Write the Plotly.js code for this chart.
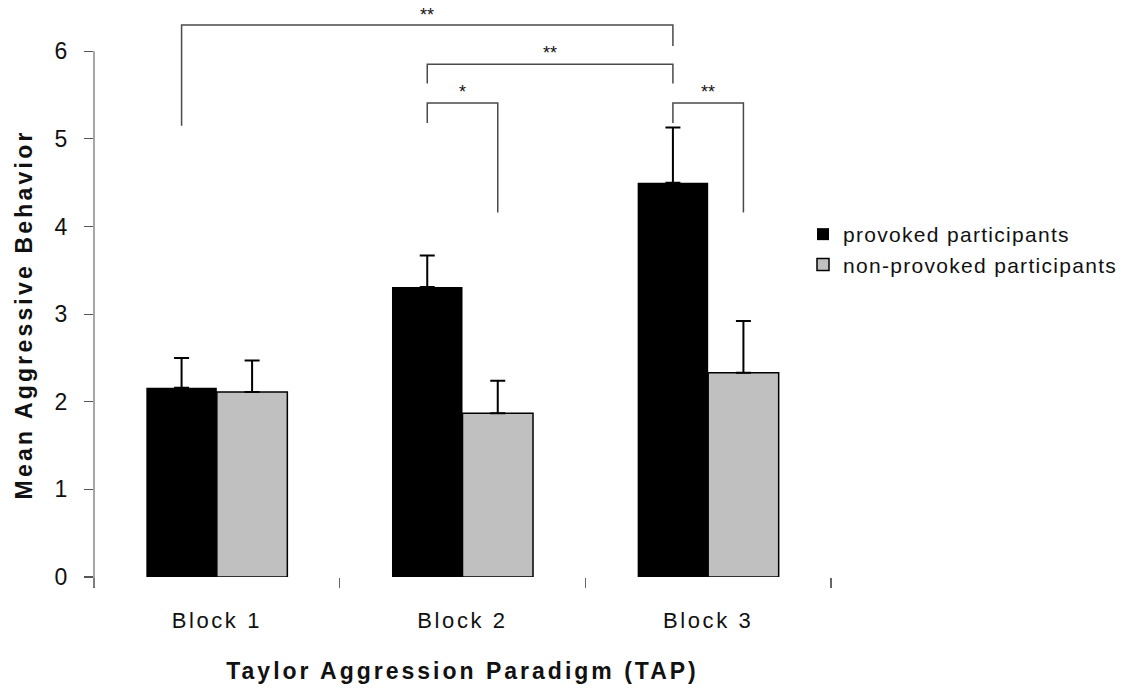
<!DOCTYPE html>
<html>
<head>
<meta charset="utf-8">
<script src="https://cdn.plot.ly/plotly-3.0.1.min.js"></script>
<style>
html,body{margin:0;padding:0;background:#fff;}
#chart{width:1128px;height:691px;}
#chart .xtick text{letter-spacing:2.6px;}
#chart .legendtext{letter-spacing:1.3px;}
#chart .legend .scrollbox{clip-path:none !important;}
#chart .xtitle{letter-spacing:3px;}
#chart g.annotation[data-index="4"] text{letter-spacing:3.2px;}
</style>
</head>
<body>
<div id="chart"></div>
<script>
// ---- data ----
const categories = ['Block 1', 'Block 2', 'Block 3'];
const seriesNames = ['provoked participants', 'non-provoked participants'];
const provoked = [2.16, 3.31, 4.50];
const provokedErr = [0.34, 0.36, 0.63];
const nonProvoked = [2.11, 1.87, 2.33];
const nonProvokedErr = [0.36, 0.37, 0.59];
const yTicks = [0, 1, 2, 3, 4, 5, 6];

// significance brackets: [left category, left series, right category, right series, line y, left foot y, right foot y, label]
const bracketLeftCat   = [0, 1, 1, 2];
const bracketLeftSer   = [0, 0, 0, 0];
const bracketRightCat  = [2, 2, 1, 2];
const bracketRightSer  = [0, 0, 1, 1];
const bracketLineY     = [6.30, 5.85, 5.41, 5.41];
const bracketLeftFootY = [5.15, 5.63, 5.18, 5.18];
const bracketRightFootY= [6.06, 5.63, 4.16, 4.16];
const bracketLabels    = ['**', '**', '*', '**'];
const bracketLabelOffset = [0.11, 0.13, 0.12, 0.12];

// ---- layout constants ----
const bargap = 0.426;
const half = (1 - bargap) / 4;             // offset of each bar centre from category centre
const yMax = 6.55;
const plotH = 574;

function barX(cat, ser) { return cat + (ser === 0 ? -half : half); }

const shapes = [];
const annotations = [];
const lineStyle = {color: '#4a4a4a', width: 1.5};
for (let i = 0; i < bracketLabels.length; i++) {
  const xl = barX(bracketLeftCat[i], bracketLeftSer[i]);
  const xr = barX(bracketRightCat[i], bracketRightSer[i]);
  shapes.push({type: 'path', xref: 'x', yref: 'y', line: lineStyle,
    path: `M${xl},${bracketLeftFootY[i]} L${xl},${bracketLineY[i]} L${xr},${bracketLineY[i]} L${xr},${bracketRightFootY[i]}`});
  annotations.push({x: (xl + xr) / 2, y: bracketLineY[i] + bracketLabelOffset[i], xref: 'x', yref: 'y',
    text: bracketLabels[i], showarrow: false, font: {family: 'Liberation Sans, Arial', size: 18, color: '#111'}});
}
// y axis line (runs slightly below zero like the original)
shapes.push({type: 'line', xref: 'paper', yref: 'paper', x0: 0, x1: 0, y0: -10 / plotH, y1: 6 / yMax,
  line: {color: '#888', width: 1.5}});

annotations.push({text: '<b>Mean Aggressive Behavior</b>', xref: 'paper', yref: 'paper',
  x: -70 / 737, y: 262 / plotH, textangle: -90, showarrow: false, xanchor: 'center', yanchor: 'middle',
  font: {family: 'Liberation Sans, Arial', size: 23, color: '#111'}});

const traces = [
  {type: 'bar', name: seriesNames[0], x: categories, y: provoked,
   marker: {color: '#000000', line: {width: 0}},
   error_y: {type: 'data', symmetric: false, array: provokedErr, arrayminus: provokedErr.map(() => 0),
             color: '#000', thickness: 2, width: 7.5}},
  {type: 'bar', name: seriesNames[1], x: categories, y: nonProvoked,
   marker: {color: '#c0c0c0', line: {color: '#000', width: 1.5}},
   error_y: {type: 'data', symmetric: false, array: nonProvokedErr, arrayminus: nonProvokedErr.map(() => 0),
             color: '#000', thickness: 2, width: 7.5}}
];

const layout = {
  width: 1128, height: 691,
  margin: {l: 94, r: 297, t: 3, b: 114},
  paper_bgcolor: '#fff', plot_bgcolor: '#fff',
  barmode: 'group', bargap: bargap, bargroupgap: 0,
  font: {family: 'Liberation Sans, Arial, sans-serif', color: '#111'},
  showlegend: true,
  legend: {x: (803 - 94) / 737, y: (577 - 214) / plotH, xanchor: 'left', yanchor: 'top',
           font: {size: 21, color: '#111'}, tracegroupgap: 0, bgcolor: 'rgba(0,0,0,0)'},
  xaxis: {type: 'category', range: [-0.5, 2.5], tickson: 'boundaries', ticks: 'outside', ticklen: 10,
          tickcolor: '#666', tickwidth: 1.2, showline: false, showgrid: false, zeroline: false,
          tickfont: {size: 22, color: '#111'}, ticklabelstandoff: 28,
          title: {text: '<b>Taylor Aggression Paradigm (TAP)</b>', font: {size: 23, color: '#111'}, standoff: 30}},
  yaxis: {range: [0, yMax], tickvals: yTicks, ticktext: yTicks.map(String), ticks: 'outside', ticklen: 9,
          tickcolor: '#555', tickwidth: 1.2, showline: false, showgrid: false, zeroline: false,
          tickfont: {size: 23, color: '#111'}, ticklabelstandoff: 12},
  shapes: shapes,
  annotations: annotations
};

Plotly.newPlot('chart', traces, layout, {displayModeBar: false, staticPlot: true});
</script>
</body>
</html>
